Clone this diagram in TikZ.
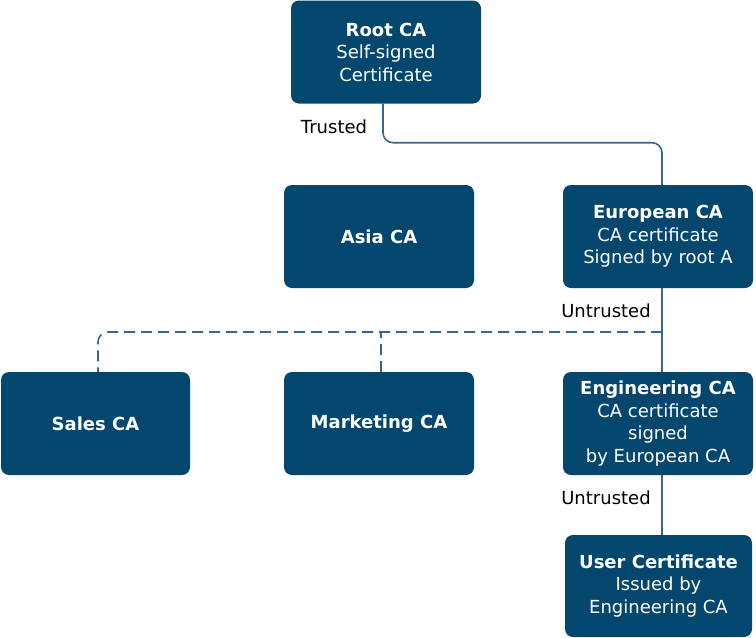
\documentclass[tikz,border=0pt]{standalone}
\usepackage{fontspec}
\setmainfont{DejaVu Sans}
\usepackage{tikz}

\definecolor{boxblue}{RGB}{3,71,111}
\definecolor{lineblue}{RGB}{52,104,143}

\begin{document}
\begin{tikzpicture}[x=1pt, y=-1pt,
  ca/.style={rectangle, rounded corners=8pt, fill=boxblue, text=white, align=center,
    minimum width=190pt, minimum height=103pt, inner sep=0pt,
    font=\fontsize{18}{22.5}\selectfont},
  link/.style={draw=lineblue, line width=1.6pt, rounded corners=10pt},
  tag/.style={font=\fontsize{18}{22.5}\selectfont, inner sep=0pt}]
  \useasboundingbox (0,0) rectangle (756,638);
  \node[ca] (root) at (386,52) {\textbf{Root CA}\\Self-signed\\Certificate};
  \node[ca] (asia) at (379,236.5) {\textbf{Asia CA}};
  \node[ca] (europe) at (658,236.5) {\textbf{European CA}\\CA certificate\\Signed by root A};
  \node[ca, minimum width=189pt] (sales) at (95.5,423.5) {\textbf{Sales CA}};
  \node[ca] (marketing) at (379,423.5) {\textbf{Marketing CA}};
  \node[ca] (engineering) at (658,423.5) {\textbf{Engineering CA}\\CA certificate\\signed\\by European CA};
  \node[ca, minimum width=187pt, minimum height=102pt] (user) at (658.5,586) {\textbf{User Certificate}\\Issued by\\Engineering CA};
  \coordinate (split) at (662,332);
  \draw[link] ([xshift=-3pt]root.south) -- ++(0,39) -| ([xshift=4pt]europe.north);
  \draw[link] ([xshift=4pt]europe.south) -- ([xshift=4pt]engineering.north);
  \draw[link, dash pattern=on 11pt off 6pt] (split) -| ([xshift=2.5pt]sales.north);
  \draw[link, dash pattern=on 11pt off 6pt] ([xshift=2pt]marketing.north) -- ([xshift=2pt]marketing.north |- split);
  \draw[link] ([xshift=4pt]engineering.south) -- ([xshift=3.5pt]user.north);
  \node[tag] (trusted) at (334,127) {Trusted};
  \node[tag] (untrusted1) at (606,311) {Untrusted};
  \node[tag] (untrusted2) at (606,498) {Untrusted};
\end{tikzpicture}
\end{document}
